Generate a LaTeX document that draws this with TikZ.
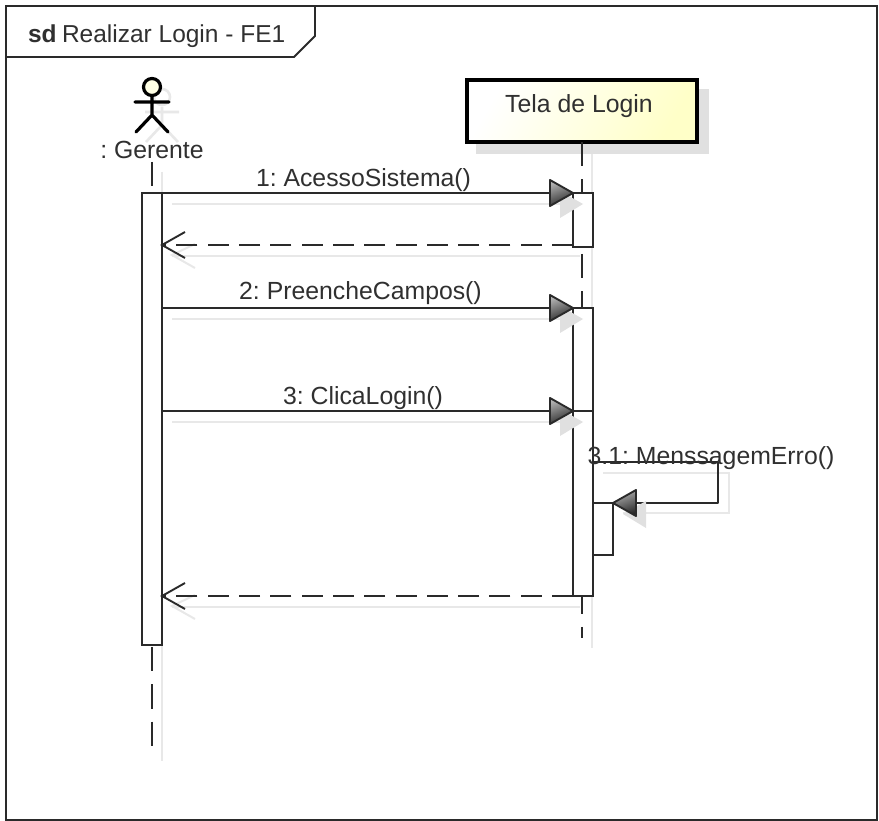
\documentclass[tikz,border=0pt]{standalone}
\usepackage{fontspec}
\setmainfont{Liberation Sans}
\frenchspacing
\usetikzlibrary{calc}
\definecolor{ln}{HTML}{2A2A2A}
\definecolor{txt}{HTML}{303030}
\definecolor{shd}{HTML}{E0E0E0}
\definecolor{shdl}{HTML}{E8E8E8}
\definecolor{pale}{HTML}{FFFFC8}
\newcommand{\solidtip}[2]{% tip point, direction (+1 right, -1 left)
  \fill[shd] ($(#1)+(10,11)$) -- ($(#1)+(10-#2*23,-2)$) -- ($(#1)+(10-#2*23,25)$) -- cycle;
  \shade[top color=black!30, bottom color=black!85, shading angle=20, draw=ln, line width=1.9pt, line join=round]
    (#1) -- ($(#1)+(-#2*23,-13)$) -- ($(#1)+(-#2*23,13)$) -- cycle;}
\newcommand{\opentip}[1]{%
  \draw[shdl, line width=2pt] ($(#1)+(33,-1)$) -- ($(#1)+(10,10)$) -- ($(#1)+(33,23)$);
  \draw[ln, line width=1.9pt] ($(#1)+(23,-13)$) -- (#1) -- ($(#1)+(23,13)$);}
\tikzset{
  x=1pt, y=-1pt,
  every node/.style={font=\fontsize{24.8}{27}\selectfont, text=txt, inner sep=0pt, outer sep=0pt},
  frameline/.style={draw=ln, line width=1.8pt},
  actbox/.style={draw=ln, fill=white, line width=1.5pt, minimum width=20pt, anchor=north west},
  msgline/.style={draw=ln, line width=1.7pt},
  retline/.style={draw=ln, line width=1.7pt, dash pattern=on 21pt off 10.3pt},
  lifeline/.style={draw=ln, line width=1.5pt, dash pattern=on 24.5pt off 12.8pt},
  shadowline/.style={draw=shdl, line width=2.2pt},
  actorline/.style={draw=black, line width=3.2pt, line cap=round},
  objbox/.style={draw=black, line width=4pt, left color=white, right color=pale, shading angle=60, minimum width=230pt, minimum height=62pt, anchor=north west},
}
\begin{document}
\begin{tikzpicture}
\useasboundingbox (0,0) rectangle (879,821);
\fill[white] (0,0) rectangle (879,821);
% frame
\draw[frameline] (6,6) rectangle (877,820);
\coordinate (tabA) at (6,57);
\coordinate (tabB) at (294,57);
\coordinate (tabC) at (315,36);
\coordinate (tabD) at (315,6);
\draw[frameline] (tabA) -- (tabB) -- (tabC) -- (tabD);
\node[anchor=base west, font=\bfseries\fontsize{24.5}{27}\selectfont] (sdl) at (28,43) {sd};
\node[anchor=base west, font=\fontsize{24.5}{27}\selectfont] (title) at (62,43) {Realizar Login - FE1};
% shadows
\fill[shd] (476,89) rectangle (709,154);
\draw[shadowline] (162,172) -- (162,193);
\draw[shadowline] (162,645) -- (162,761);
\draw[shadowline] (592,154) -- (592,648);
% actor shadow
\draw[shadowline, line width=2.6pt] (162,97) circle[radius=8];
\draw[shadowline, line width=2.6pt] (162,107) -- (162,125) (145,112) -- (179,112) (146,142) -- (162,125) -- (178,142);
% actor
\draw[actorline] (135,102) -- (169,102) (152,97) -- (152,115) (136,132) -- (152,115) -- (168,132);
\node[circle, draw=black, line width=3.2pt, fill=pale!50, minimum size=17pt] (head) at (152,87) {};
\node[anchor=base] (gerente) at (152,158.5) {: Gerente};
% lifelines
\coordinate (gtop) at (152,162);
\coordinate (gbot) at (152,749);
\draw[lifeline] (gtop) -- (gbot);
\node[objbox] (tela) at (467,80) {};
\node[anchor=base] (telatxt) at (579,113) {Tela de Login};
\coordinate (tbot) at (582,638);
\draw[lifeline] (tela.south -| tbot) -- (tbot);
% activation boxes
\node[actbox, minimum height=452pt] (A) at (142,193) {};
\node[actbox, minimum height=54pt] (T1) at (573,193) {};
\node[actbox, minimum height=103pt] (T2) at (573,308) {};
\node[actbox, minimum height=185pt] (T3) at (573,411) {};
\node[actbox, minimum height=52pt, fill=white] (T4) at (593,503) {};
\coordinate (ret1) at ($(T1.south west)+(0,-2)$);
% message shadows
\draw[shadowline] ($(A.north east)+(10,11)$) -- ($(T1.north west)+(0,11)$);
\draw[shadowline] ($(A.east |- ret1)+(10,11)$) -- ($(ret1)+(7,11)$);
\draw[shadowline] ($(A.east |- T2.north west)+(10,11)$) -- ($(T2.north west)+(0,11)$);
\draw[shadowline] ($(A.east |- T3.north west)+(10,11)$) -- ($(T3.north west)+(0,11)$);
\draw[shadowline] ($(A.east |- T3.south west)+(10,11)$) -- ($(T3.south west)+(7,11)$);
% messages
\draw[msgline] (A.north east) -- (T1.north west);
\solidtip{T1.north west}{1}
\opentip{A.east |- ret1}
\draw[retline] (ret1) -- (A.east |- ret1);
\draw[msgline] (A.east |- T2.north west) -- (T2.north west);
\solidtip{T2.north west}{1}
\draw[msgline] (A.east |- T3.north west) -- (T3.north west);
\solidtip{T3.north west}{1}
\opentip{A.east |- T3.south west}
\draw[retline] (T3.south west) -- (A.east |- T3.south west);
% self message
\coordinate (selfA) at (593,462);
\coordinate (selfB) at (718,462);
\coordinate (selfC) at (718,503);
\draw[shadowline] (603,473) -- (729,473) -- (729,513) -- (623,513);
\draw[msgline, line join=round] (selfA) -- (selfB) -- (selfC) -- (T4.north east);
\solidtip{T4.north east}{-1}
% labels
\node[anchor=base] (m1) at (363.5,186.5) {1: AcessoSistema()};
\node[anchor=base] (m2) at (360.5,299.5) {2: PreencheCampos()};
\node[anchor=base] (m3) at (363,404) {3: ClicaLogin()};
\node[anchor=base] (m4) at (711,464) {3.1: MenssagemErro()};
\end{tikzpicture}
\end{document}
